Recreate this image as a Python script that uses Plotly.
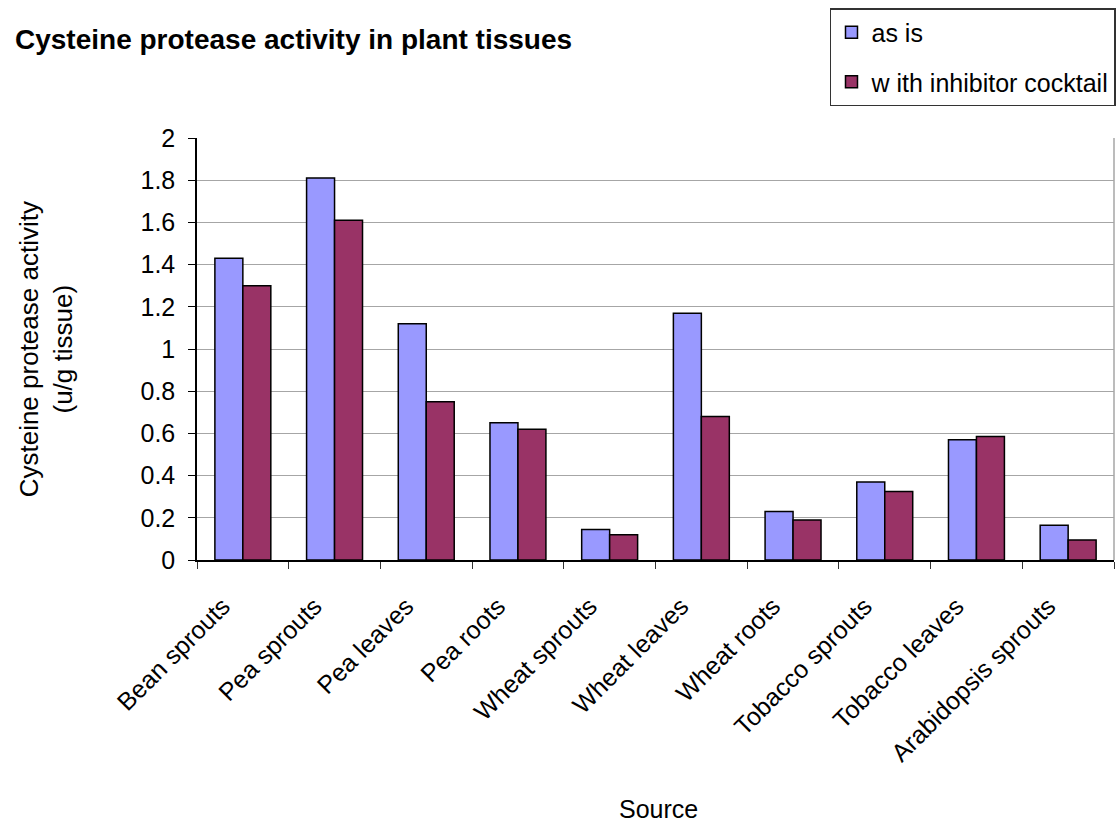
import plotly.graph_objects as go

# Cysteine protease activity per tissue source (u/g tissue)
sources = [
    "Bean sprouts", "Pea sprouts", "Pea leaves", "Pea roots", "Wheat sprouts",
    "Wheat leaves", "Wheat roots", "Tobacco sprouts", "Tobacco leaves",
    "Arabidopsis sprouts",
]
as_is = [1.43, 1.81, 1.12, 0.65, 0.145, 1.17, 0.23, 0.37, 0.57, 0.165]
with_inhibitor = [1.30, 1.61, 0.75, 0.62, 0.12, 0.68, 0.19, 0.325, 0.585, 0.095]
y_ticks = [0, 0.2, 0.4, 0.6, 0.8, 1, 1.2, 1.4, 1.6, 1.8, 2]

FONT = "Liberation Sans, Arial, sans-serif"

fig = go.Figure()
fig.add_trace(go.Bar(
    name="as is", x=sources, y=as_is,
    marker=dict(color="#9999FF", line=dict(color="#000000", width=1.5)),
    legendgroup="a",
))
fig.add_trace(go.Bar(
    name="w ith inhibitor cocktail", x=sources, y=with_inhibitor,
    marker=dict(color="#993366", line=dict(color="#000000", width=1.5)),
    legendgroup="b",
))

fig.update_layout(
    width=1118, height=825,
    margin=dict(l=197, r=2, t=138, b=265),
    paper_bgcolor="white", plot_bgcolor="white",
    font=dict(family=FONT, size=25, color="#000000"),
    barmode="group", bargap=0.39, bargroupgap=0,
    title=dict(
        text="<b>Cysteine protease activity in plant tissues</b>",
        font=dict(family=FONT, size=28, color="#000000"),
        x=15 / 1118, xanchor="left", xref="container",
        y=1 - 39 / 825, yanchor="middle", yref="container",
    ),
    legend=dict(
        x=(1118 - 197) / 919, xanchor="right",
        y=(560 - 8) / 422, yanchor="top",
        bordercolor="#333333", borderwidth=1.5,
        bgcolor="white",
        font=dict(family=FONT, size=25, color="#000000"),
        traceorder="grouped", tracegroupgap=14,
        itemwidth=30,
    ),
    showlegend=True,
)

fig.update_xaxes(
    type="category",
    tickangle=-45,
    tickson="boundaries",
    ticks="outside", ticklen=7, tickcolor="#333333", tickwidth=1,
    ticklabelstandoff=20, ticklabelshift=-20,
    showline=True, linecolor="#000000", linewidth=1.5,
    showgrid=False,
    tickfont=dict(family=FONT, size=25, color="#000000"),
)
fig.update_yaxes(
    range=[0, 2],
    tickvals=y_ticks,
    ticktext=[f"{v:g}" for v in y_ticks],
    ticks="outside", ticklen=7, tickcolor="#000000", tickwidth=1,
    ticklabelstandoff=8,
    showline=True, linecolor="#000000", linewidth=1.5,
    showgrid=True, gridcolor="#A6A6A6", gridwidth=1,
    zeroline=False,
    tickfont=dict(family=FONT, size=25, color="#000000"),
)

# right edge of the plot frame
fig.add_shape(type="line", xref="paper", yref="paper",
              x0=1, x1=1, y0=0, y1=1,
              line=dict(color="#A6A6A6", width=1.5))

fig.add_annotation(
    text="Cysteine protease activity<br>(u/g tissue)",
    xref="paper", yref="paper",
    x=(46 - 197) / 919, y=0.5, xanchor="center", yanchor="middle",
    textangle=-90, showarrow=False,
    font=dict(family=FONT, size=26, color="#000000"),
)
fig.add_annotation(
    text="Source",
    xref="paper", yref="paper",
    x=(660 - 197) / 919, y=(560 - 809) / 422,
    xanchor="center", yanchor="middle", showarrow=False,
    font=dict(family=FONT, size=25, color="#000000"),
)

fig.write_html("out.html")
